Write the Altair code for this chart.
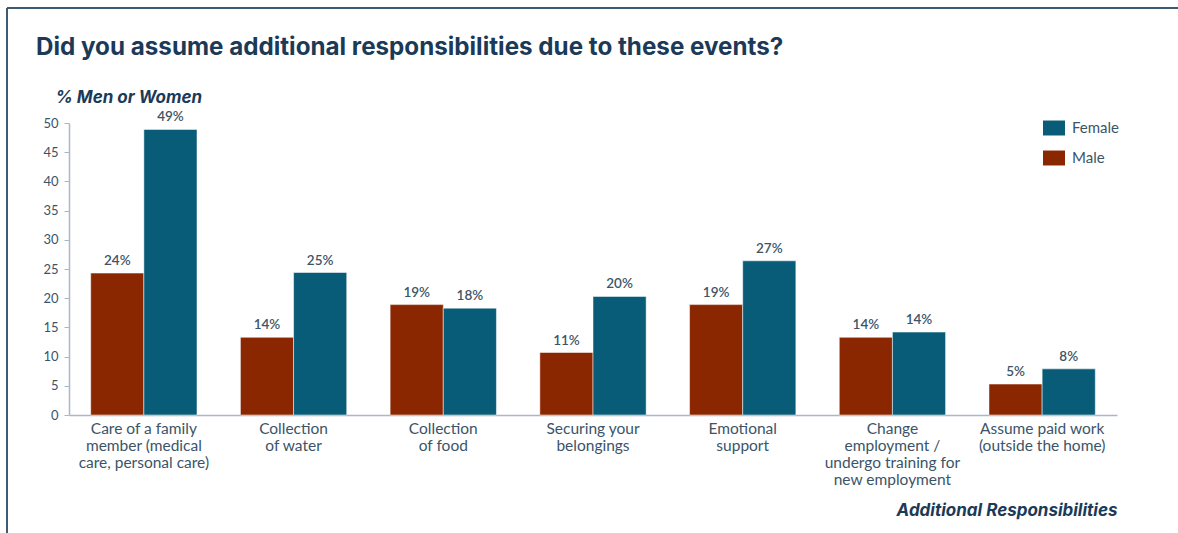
import altair as alt
import pandas as pd

categories = [
    "Care of a family|member (medical|care, personal care)",
    "Collection|of water",
    "Collection|of food",
    "Securing your|belongings",
    "Emotional|support",
    "Change|employment /|undergo training for|new employment",
    "Assume paid work|(outside the home)",
]
male_values = [24.3, 13.3, 18.9, 10.7, 18.9, 13.3, 5.3]
female_values = [48.9, 24.4, 18.3, 20.3, 26.4, 14.2, 7.9]
male_labels = ["24%", "14%", "19%", "11%", "19%", "14%", "5%"]
female_labels = ["49%", "25%", "18%", "20%", "27%", "14%", "8%"]
y_ticks = [0, 5, 10, 15, 20, 25, 30, 35, 40, 45, 50]
title_text = "Did you assume additional responsibilities due to these events?"

rows = []
for c, mv, fv, ml, fl in zip(categories, male_values, female_values, male_labels, female_labels):
    rows.append({"cat": c, "sex": "Male", "value": mv, "label": ml})
    rows.append({"cat": c, "sex": "Female", "value": fv, "label": fl})
df = pd.DataFrame(rows)

FONT = "Lato"
TFONT = "Inter"
TXT = "#3b5468"
NAVY = "#1b3a57"
AXIS = "#a7b8c6"
MALE = "#8a2600"
FEMALE = "#085c78"

rect_path = "M-1,-0.68L1,-0.68L1,0.68L-1,0.68Z"

x_axis = alt.Axis(
    title="Additional Responsibilities",
    titleX=1048, titleY=95, titleAlign="right", titleBaseline="middle",
    titleFont=TFONT, titleFontSize=17, titleFontWeight="bold", titleFontStyle="italic",
    titleColor=NAVY,
    labelExpr="split(datum.label, '|')",
    labelAngle=0, labelFont=FONT, labelFontSize=15.5, labelColor=TXT,
    labelLineHeight=17, labelPadding=6, labelBaseline="top", labelAlign="center",
    ticks=False, domainColor=AXIS, domainWidth=1.5,
)

y_axis = alt.Axis(
    values=y_ticks, tickCount=12, grid=False, labelOverlap=False,
    title="% Men or Women",
    titleX=-14, titleY=-26, titleAngle=0, titleAlign="left", titleBaseline="middle",
    titleFont=TFONT, titleFontSize=17, titleFontWeight="bold", titleFontStyle="italic",
    titleColor=NAVY,
    labelFont=FONT, labelFontSize=13, labelColor=TXT, labelPadding=6,
    tickSize=5, tickColor=AXIS, domainColor=AXIS, domainWidth=1.5,
)

x_enc = alt.X("cat:N", sort=categories,
              scale=alt.Scale(paddingInner=0.29, paddingOuter=0.145), axis=x_axis)
y_enc = alt.Y("value:Q", scale=alt.Scale(domain=[0, 50], nice=False), axis=y_axis)

color_enc = alt.Color(
    "sex:N",
    scale=alt.Scale(domain=["Female", "Male"], range=[FEMALE, MALE]),
    legend=alt.Legend(
        title=None, orient="none", legendX=974, legendY=-6,
        symbolType=rect_path, symbolSize=484, symbolStrokeWidth=0,
        symbolOpacity=1,
        labelFont=FONT, labelFontSize=15, labelColor=TXT, labelOffset=7,
        rowPadding=11,
    ),
)

offset_enc = alt.XOffset("sex:N", sort=["Male", "Female"])

bars = alt.Chart(df).mark_bar(stroke="white", strokeWidth=0.5).encode(
    x=x_enc, y=y_enc, color=color_enc, xOffset=offset_enc,
)

labels = alt.Chart(df).mark_text(
    font=FONT, fontSize=13.5, fontWeight=600, color=TXT, baseline="bottom", dy=-5,
).encode(
    x=x_enc, y=y_enc, xOffset=offset_enc, text="label:N",
)

one = pd.DataFrame({"t": [title_text]})

title_mark = alt.Chart(one).mark_text(
    font=TFONT, fontSize=24.2, fontWeight="bold", color=NAVY, align="left", baseline="alphabetic",
).encode(x=alt.value(-33), y=alt.value(-68), text="t:N")

border_top = alt.Chart(one).mark_rule(color="#3d5c74", strokeWidth=2).encode(
    x=alt.value(-62), x2=alt.value(1109), y=alt.value(-115),
)
border_left = alt.Chart(one).mark_rule(color="#3d5c74", strokeWidth=2).encode(
    x=alt.value(-62), y=alt.value(-115), y2=alt.value(420),
)

chart = alt.layer(bars, labels, title_mark, border_top, border_left).properties(
    width=1048, height=292,
    autosize=alt.AutoSizeParams(type="none"),
    padding={"left": 69, "top": 123, "right": 61, "bottom": 118},
).configure_view(stroke=None)

chart.save("out.html", embed_options={"renderer": "svg", "actions": False})
